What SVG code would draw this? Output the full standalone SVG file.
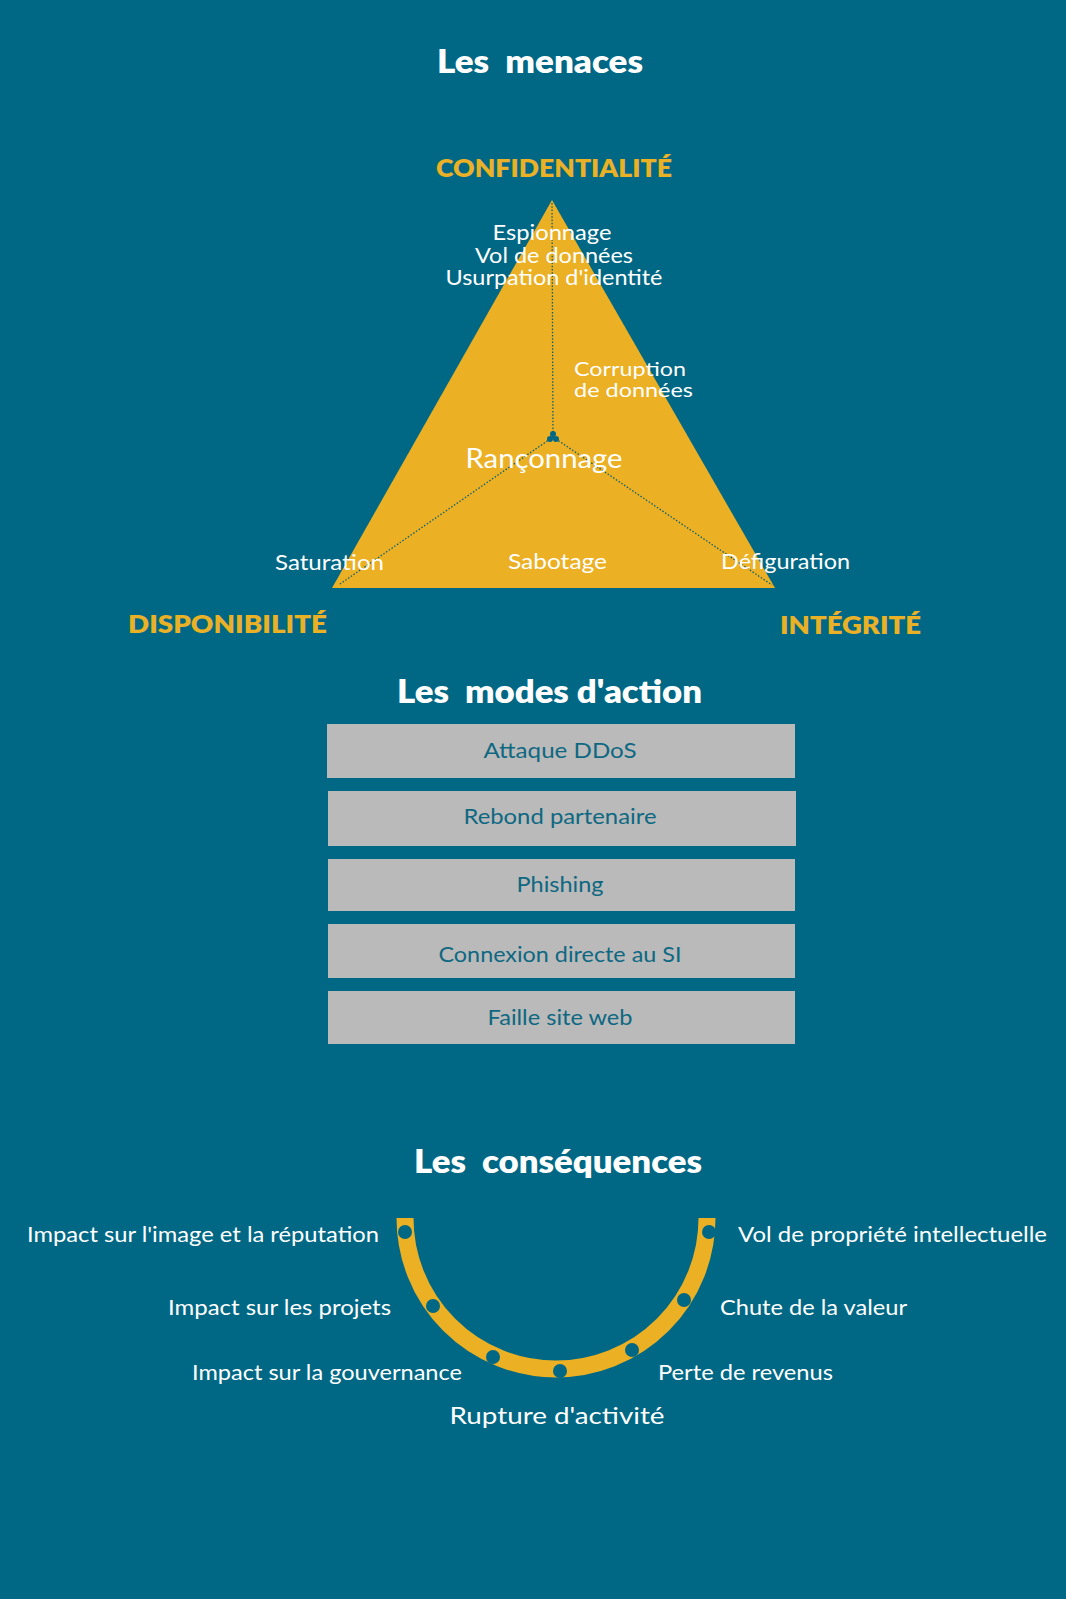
<svg xmlns="http://www.w3.org/2000/svg" width="1066" height="1599" viewBox="0 0 1066 1599">
<style>
.h{font-family:Lato,"Liberation Sans",sans-serif;font-weight:800;font-size:32px;fill:#ffffff;white-space:pre}
.c{font-family:Lato,"Liberation Sans",sans-serif;font-weight:800;font-size:24px;fill:#EBB126}
.t{font-family:Lato,"Liberation Sans",sans-serif;font-size:21px;fill:#ffffff}
.b{font-family:Lato,"Liberation Sans",sans-serif;font-size:22px;fill:#0E6882}
.box{fill:#BABABA}
.dot{fill:#006884}
.conn{stroke:#0B5F75;stroke-width:1.3;stroke-dasharray:1.5 1.8;fill:none}
</style>
<rect width="1066" height="1599" fill="#006884"/>

<text class="h" x="540" y="73" text-anchor="middle" textLength="206" lengthAdjust="spacingAndGlyphs">Les  menaces</text>

<g id="triangle">
<polygon points="552,200 332,588 775,588" fill="#EBB023"/>
</g>
<g id="connectors">
<line class="conn" x1="552" y1="203" x2="553" y2="434"/>
<line class="conn" x1="553" y1="437" x2="340" y2="584"/>
<line class="conn" x1="553" y1="437" x2="772" y2="585"/>
</g>
<g id="center">
<circle cx="553" cy="434" r="3" class="dot"/>
<circle cx="550" cy="439" r="3" class="dot"/>
<circle cx="556" cy="439" r="3" class="dot"/>
</g>

<g id="pole-confidentialite"><text class="c" x="554" y="177" text-anchor="middle" textLength="236" lengthAdjust="spacingAndGlyphs">CONFIDENTIALITÉ</text></g>
<g id="pole-disponibilite"><text class="c" x="128" y="633" textLength="199" lengthAdjust="spacingAndGlyphs">DISPONIBILITÉ</text></g>
<g id="pole-integrite"><text class="c" x="780" y="634" textLength="141" lengthAdjust="spacingAndGlyphs">INTÉGRITÉ</text></g>

<g id="threats-conf">
<text class="t" x="552" y="240" text-anchor="middle" textLength="119" lengthAdjust="spacingAndGlyphs">Espionnage</text>
<text class="t" x="554" y="263" text-anchor="middle" textLength="158" lengthAdjust="spacingAndGlyphs">Vol de données</text>
<text class="t" x="554" y="285" text-anchor="middle" textLength="217" lengthAdjust="spacingAndGlyphs">Usurpation d'identité</text>
</g>
<g id="threat-corruption">
<text class="t" x="574" y="376" style="font-size:20px" textLength="112" lengthAdjust="spacingAndGlyphs">Corruption</text>
<text class="t" x="574" y="397" style="font-size:20px" textLength="119" lengthAdjust="spacingAndGlyphs">de données</text>
</g>
<g id="threat-ranconnage"><text class="t" x="544" y="468" text-anchor="middle" style="font-size:26px" textLength="157" lengthAdjust="spacingAndGlyphs">Rançonnage</text></g>
<g id="threat-saturation"><text class="t" x="275" y="570" textLength="109" lengthAdjust="spacingAndGlyphs">Saturation</text></g>
<g id="threat-sabotage"><text class="t" x="508" y="569" textLength="99" lengthAdjust="spacingAndGlyphs">Sabotage</text></g>
<g id="threat-defiguration"><text class="t" x="721" y="569" textLength="129" lengthAdjust="spacingAndGlyphs">Défiguration</text></g>

<text class="h" x="397" y="703" textLength="305" lengthAdjust="spacingAndGlyphs">Les  modes d'action</text>

<g id="mode-ddos"><rect class="box" x="327" y="724" width="468" height="54"/><text class="b" x="560" y="758" text-anchor="middle" textLength="153" lengthAdjust="spacingAndGlyphs">Attaque DDoS</text></g>
<g id="mode-rebond"><rect class="box" x="328" y="791" width="468" height="55"/><text class="b" x="560" y="824" text-anchor="middle" textLength="193" lengthAdjust="spacingAndGlyphs">Rebond partenaire</text></g>
<g id="mode-phishing"><rect class="box" x="328" y="859" width="467" height="52"/><text class="b" x="560" y="892" text-anchor="middle" textLength="87" lengthAdjust="spacingAndGlyphs">Phishing</text></g>
<g id="mode-connexion"><rect class="box" x="328" y="924" width="467" height="54"/><text class="b" x="560" y="962" text-anchor="middle" textLength="243" lengthAdjust="spacingAndGlyphs">Connexion directe au SI</text></g>
<g id="mode-faille"><rect class="box" x="328" y="991" width="467" height="53"/><text class="b" x="560" y="1025" text-anchor="middle" textLength="145" lengthAdjust="spacingAndGlyphs">Faille site web</text></g>

<text class="h" x="414" y="1173" textLength="288" lengthAdjust="spacingAndGlyphs">Les  conséquences</text>

<g id="arc">
<path d="M 405 1218 A 151 151 0 0 0 707 1218" fill="none" stroke="#EBB023" stroke-width="17"/>
<circle class="dot" cx="405" cy="1232" r="7"/>
<circle class="dot" cx="433" cy="1306" r="7"/>
<circle class="dot" cx="493" cy="1357" r="7"/>
<circle class="dot" cx="560" cy="1371" r="7"/>
<circle class="dot" cx="632" cy="1350" r="7"/>
<circle class="dot" cx="684" cy="1300" r="7"/>
<circle class="dot" cx="709" cy="1232" r="7"/>
</g>

<g id="cons-image"><text class="t" x="379" y="1242" text-anchor="end" textLength="352" lengthAdjust="spacingAndGlyphs">Impact sur l'image et la réputation</text></g>
<g id="cons-projets"><text class="t" x="391" y="1315" text-anchor="end" textLength="223" lengthAdjust="spacingAndGlyphs">Impact sur les projets</text></g>
<g id="cons-gouvernance"><text class="t" x="462" y="1380" text-anchor="end" textLength="270" lengthAdjust="spacingAndGlyphs">Impact sur la gouvernance</text></g>
<g id="cons-rupture"><text class="t" x="557" y="1424" text-anchor="middle" style="font-size:23px" textLength="215" lengthAdjust="spacingAndGlyphs">Rupture d'activité</text></g>
<g id="cons-revenus"><text class="t" x="658" y="1380" textLength="175" lengthAdjust="spacingAndGlyphs">Perte de revenus</text></g>
<g id="cons-valeur"><text class="t" x="720" y="1315" textLength="187" lengthAdjust="spacingAndGlyphs">Chute de la valeur</text></g>
<g id="cons-pi"><text class="t" x="738" y="1242" textLength="309" lengthAdjust="spacingAndGlyphs">Vol de propriété intellectuelle</text></g>
</svg>
